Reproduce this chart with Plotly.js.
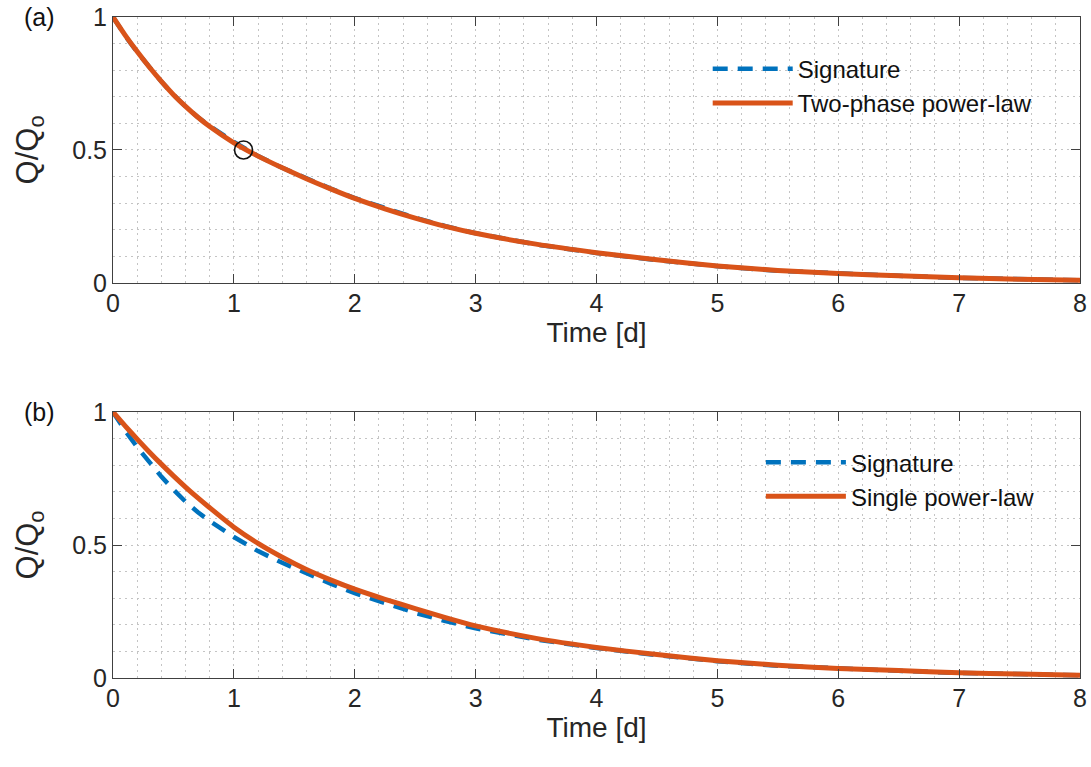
<!DOCTYPE html>
<html>
<head>
<meta charset="utf-8">
<script src="https://cdn.plot.ly/plotly-3.0.1.min.js"></script>
<style>html,body{margin:0;padding:0;background:#fff;}#chart{width:1091px;height:767px;}</style>
</head>
<body>
<div id="chart"></div>
<script>
// Time axis [d]
const timeDays = [0, 0.1, 0.2, 0.3, 0.4, 0.5, 0.6, 0.7, 0.8, 1.0, 1.2, 1.4, 1.6, 1.8, 2.0, 2.25, 2.5, 2.75, 3.0, 3.5, 4.0, 4.5, 5.0, 5.5, 6.0, 6.5, 7.0, 7.5, 8.0];
// Recession signature Q/Qo
const signature = [1.0, 0.93, 0.868, 0.81, 0.757, 0.708, 0.663, 0.624, 0.59, 0.53, 0.477, 0.433, 0.393, 0.355, 0.319, 0.28, 0.245, 0.214, 0.187, 0.145, 0.113, 0.086, 0.063, 0.046, 0.035, 0.027, 0.019, 0.014, 0.010];
// Two-phase power-law fit
const twoPhase = [1.0, 0.932, 0.870, 0.812, 0.758, 0.708, 0.664, 0.624, 0.588, 0.527, 0.477, 0.433, 0.392, 0.354, 0.318, 0.279, 0.244, 0.213, 0.187, 0.146, 0.114, 0.087, 0.064, 0.047, 0.036, 0.027, 0.020, 0.014, 0.010];
// Single power-law fit
const singlePL = [1.0, 0.948, 0.898, 0.850, 0.804, 0.760, 0.718, 0.678, 0.640, 0.567, 0.506, 0.454, 0.408, 0.369, 0.334, 0.296, 0.261, 0.227, 0.196, 0.149, 0.115, 0.088, 0.065, 0.048, 0.036, 0.028, 0.020, 0.015, 0.010];
// Half-flow point marked in panel (a)
const halfT = [1.08];
const halfQ = [0.5];

const blue = '#0072BD', orange = '#D95319';
const FONT = 'Liberation Sans, Arial, Helvetica, sans-serif';
const dashSig = '15px,10px';

const traces = [
  {x: timeDays, y: signature, type: 'scatter', mode: 'lines', name: 'Signature',
   line: {color: blue, width: 4.5, dash: dashSig}, xaxis: 'x', yaxis: 'y', legend: 'legend'},
  {x: timeDays, y: twoPhase, type: 'scatter', mode: 'lines', name: 'Two-phase power-law',
   line: {color: orange, width: 5, shape: 'spline', smoothing: 0.6}, xaxis: 'x', yaxis: 'y', legend: 'legend'},
  {x: halfT, y: halfQ, type: 'scatter', mode: 'markers', showlegend: false,
   marker: {symbol: 'circle-open', size: 18, color: '#111', line: {width: 1.6, color: '#111'}}, xaxis: 'x', yaxis: 'y'},
  {x: timeDays, y: signature, type: 'scatter', mode: 'lines', name: 'Signature',
   line: {color: blue, width: 4.5, dash: dashSig}, xaxis: 'x2', yaxis: 'y2', legend: 'legend2'},
  {x: timeDays, y: singlePL, type: 'scatter', mode: 'lines', name: 'Single power-law',
   line: {color: orange, width: 5, shape: 'spline', smoothing: 0.6}, xaxis: 'x2', yaxis: 'y2', legend: 'legend2'}
];

const axCol = '#404040', gridCol = '#c4c4c4';
function xAx(anchor) {
  return {anchor: anchor, domain: [0, 1], range: [0, 8], dtick: 1, tick0: 0,
    ticks: 'inside', ticklen: 9, tickwidth: 1, tickcolor: axCol, ticklabelstandoff: -2,
    showline: true, linecolor: axCol, linewidth: 1, mirror: 'ticks', zeroline: false,
    showgrid: true, gridcolor: gridCol, griddash: '2px,4px', gridwidth: 1,
    minor: {dtick: 0.2, showgrid: true, gridcolor: gridCol, griddash: '2px,4px', gridwidth: 1, ticks: ''},
    tickfont: {family: FONT, size: 25, color: '#262626'},
    title: {text: 'Time [d]', font: {family: FONT, size: 28, color: '#262626'}, standoff: 0}};
}
function yAx(anchor, dom) {
  return {anchor: anchor, domain: dom, range: [0, 1], dtick: 0.5, tick0: 0,
    ticks: 'inside', ticklen: 9, tickwidth: 1, tickcolor: axCol,
    showline: true, linecolor: axCol, linewidth: 1, mirror: 'ticks', zeroline: false,
    showgrid: true, gridcolor: gridCol, griddash: '2px,4px', gridwidth: 1,
    minor: {dtick: 0.1, showgrid: true, gridcolor: gridCol, griddash: '2px,4px', gridwidth: 1, ticks: ''},
    tickfont: {family: FONT, size: 25, color: '#262626'},
    title: {text: 'Q/Q<sub>o</sub>', font: {family: FONT, size: 31, color: '#262626'}, standoff: 24}};
}

const layout = {
  width: 1091, height: 767,
  margin: {l: 113, r: 11, t: 17, b: 89},
  paper_bgcolor: '#fff', plot_bgcolor: '#fff',
  xaxis: xAx('y'), yaxis: yAx('x', [0.5976, 1]),
  xaxis2: xAx('y2'), yaxis2: yAx('x2', [0, 0.4024]),
  legend: {x: 0.615, y: 0.955, xanchor: 'left', yanchor: 'top', bgcolor: 'rgba(0,0,0,0)',
    font: {family: FONT, size: 24, color: '#111'}, itemwidth: 80, tracegroupgap: 0},
  legend2: {x: 0.67, y: 0.36, xanchor: 'left', yanchor: 'top', bgcolor: 'rgba(0,0,0,0)',
    font: {family: FONT, size: 24, color: '#111'}, itemwidth: 80, tracegroupgap: 0},
  annotations: [
    {text: '(a)', xref: 'paper', yref: 'paper', x: -0.058, y: 1.0, xanchor: 'right', yanchor: 'middle',
     showarrow: false, font: {family: FONT, size: 25, color: '#111'}},
    {text: '(b)', xref: 'paper', yref: 'paper', x: -0.058, y: 0.4024, xanchor: 'right', yanchor: 'middle',
     showarrow: false, font: {family: FONT, size: 25, color: '#111'}}
  ],
  showlegend: true
};

Plotly.newPlot('chart', traces, layout, {displayModeBar: false, staticPlot: true});
</script>
</body>
</html>
